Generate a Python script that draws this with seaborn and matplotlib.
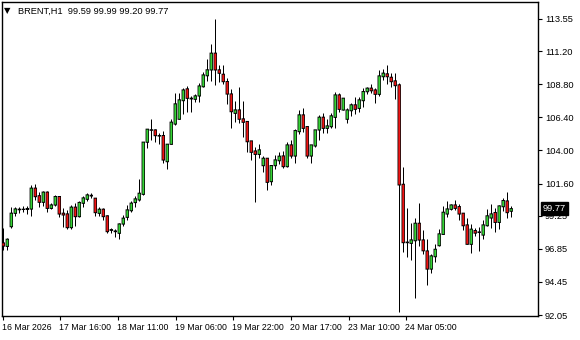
import matplotlib
matplotlib.use("Agg")
import matplotlib.pyplot as plt
import matplotlib.transforms as mtransforms
import numpy as np
import pandas as pd
import seaborn as sns

symbol = "BRENT,H1"

opens = [97.28, 97.04, 98.47, 99.44, 99.70, 99.73, 99.72, 99.75, 101.26, 100.71,
         100.24, 100.97, 99.80, 100.04, 100.65, 99.44, 99.39, 98.40, 99.88, 99.20,
         100.17, 100.46, 100.70, 100.53, 99.44, 99.73, 99.25, 98.20, 98.15, 97.99,
         98.66, 99.15, 99.63, 100.22, 100.41, 100.82, 104.60, 105.50, 105.49, 105.08,
         105.08, 103.19, 104.45, 105.92, 106.27, 107.62, 108.47, 107.75, 107.72, 107.96,
         108.63, 109.43, 109.85, 111.06, 109.85, 109.53, 109.00, 108.10, 106.70, 106.94,
         106.29, 106.10, 104.69, 103.96, 103.72, 102.90, 103.43, 101.74, 102.90, 103.26,
         103.60, 102.83, 104.40, 103.60, 105.37, 106.58, 105.73, 103.60, 104.33, 105.49,
         106.41, 105.61, 105.73, 106.41, 108.03, 106.94, 106.27, 106.89, 107.31, 107.06,
         107.62, 108.27, 108.52, 108.39, 108.08, 109.36, 109.56, 109.31, 109.05, 108.76,
         101.54, 97.31, 97.26, 97.45, 98.71, 97.50, 96.70, 95.39, 96.29, 97.09,
         97.91, 99.39, 99.73, 100.04, 99.92, 99.44, 98.59, 97.19, 98.18, 98.05,
         97.86, 98.54, 99.10, 99.49, 98.78, 99.92, 100.33, 99.59]
highs = [98.34, 97.67, 99.88, 99.88, 99.92, 99.95, 100.00, 101.50, 101.57, 100.97,
         101.08, 101.08, 100.15, 100.75, 100.70, 99.80, 99.70, 100.04, 100.17, 100.36,
         100.70, 100.94, 100.89, 100.55, 99.88, 99.85, 99.30, 98.37, 98.30, 98.72,
         99.32, 100.04, 100.33, 100.70, 101.93, 104.62, 105.56, 106.29, 105.54, 105.25,
         105.44, 104.47, 106.29, 108.15, 108.20, 108.52, 108.68, 107.96, 108.08, 108.88,
         109.68, 110.62, 111.71, 113.55, 110.21, 110.21, 109.29, 108.47, 107.60, 108.63,
         107.60, 106.10, 104.69, 104.28, 104.45, 103.62, 103.43, 102.90, 103.67, 103.91,
         103.96, 104.64, 104.76, 105.54, 106.94, 107.06, 105.73, 104.40, 105.49, 106.58,
         106.70, 106.27, 106.70, 108.27, 108.20, 107.79, 107.06, 107.47, 107.86, 107.86,
         108.52, 108.63, 108.80, 108.52, 109.85, 109.90, 110.21, 109.61, 109.61, 108.88,
         102.78, 99.80, 98.76, 99.08, 100.22, 98.23, 97.55, 96.48, 97.21, 98.28,
         99.99, 100.33, 100.10, 100.41, 100.10, 99.44, 99.08, 98.64, 98.37, 98.47,
         98.95, 99.73, 100.12, 99.80, 100.04, 100.53, 101.01, 99.99]
lows = [96.77, 96.77, 98.40, 99.27, 99.49, 99.50, 99.40, 99.27, 100.41, 99.92,
        100.00, 99.56, 99.75, 99.97, 99.20, 98.42, 98.30, 98.30, 98.55, 99.15,
        99.92, 100.34, 100.53, 99.27, 99.27, 98.95, 97.99, 97.99, 97.70, 97.55,
        98.52, 98.95, 99.53, 99.92, 100.33, 100.80, 104.18, 104.76, 104.64, 104.45,
        103.07, 102.64, 104.45, 105.85, 106.27, 106.65, 106.82, 106.82, 107.54, 107.50,
        108.63, 109.07, 109.07, 108.76, 109.00, 108.81, 107.36, 105.66, 106.10, 105.98,
        105.00, 103.91, 103.31, 100.28, 103.43, 102.46, 101.13, 101.50, 102.66, 102.99,
        102.71, 102.83, 103.43, 103.12, 105.20, 105.37, 103.43, 103.07, 104.25, 104.76,
        105.30, 105.25, 105.66, 105.61, 106.82, 106.94, 105.98, 106.51, 106.65, 106.82,
        107.18, 108.08, 108.20, 107.43, 107.96, 109.12, 108.83, 108.63, 107.72, 92.30,
        96.65, 96.29, 96.05, 93.27, 97.06, 96.48, 94.23, 95.08, 95.92, 97.09,
        97.91, 99.15, 99.68, 99.68, 98.97, 98.23, 97.19, 96.53, 97.81, 96.72,
        97.55, 98.54, 98.35, 98.11, 98.28, 99.61, 99.08, 99.20]
closes = [97.06, 97.55, 99.44, 99.75, 99.73, 99.72, 99.78, 101.26, 100.65, 100.24,
          100.97, 99.80, 100.04, 100.65, 99.39, 99.32, 98.40, 99.88, 99.20, 100.22,
          100.55, 100.77, 100.74, 99.49, 99.73, 99.20, 98.11, 98.25, 98.11, 98.66,
          99.08, 99.68, 100.17, 100.48, 100.89, 104.60, 105.54, 105.47, 105.08, 105.05,
          103.31, 104.45, 106.05, 107.38, 107.67, 108.39, 107.79, 107.79, 107.96, 108.68,
          109.48, 109.85, 111.06, 109.85, 109.61, 109.00, 108.10, 106.82, 106.94, 106.27,
          106.05, 104.64, 103.87, 103.72, 104.04, 103.43, 101.69, 102.90, 103.31, 103.58,
          102.83, 104.40, 103.60, 105.44, 106.58, 105.61, 103.60, 104.40, 105.49, 106.41,
          105.61, 105.78, 106.51, 108.03, 106.99, 107.79, 106.94, 107.31, 106.99, 107.67,
          108.27, 108.52, 108.34, 108.08, 109.41, 109.61, 109.36, 109.00, 108.71, 101.50,
          97.31, 97.34, 97.50, 98.71, 97.50, 96.72, 95.39, 96.34, 96.82, 97.94,
          99.51, 99.75, 100.04, 99.80, 99.39, 98.54, 97.19, 98.28, 98.00, 98.08,
          98.59, 99.25, 99.39, 98.78, 99.97, 100.36, 99.49, 99.77]

price_ticks = [113.55, 111.20, 108.80, 106.40, 104.00, 101.60, 99.25, 96.85, 94.45, 92.05]
time_labels = ["16 Mar 2026", "17 Mar 16:00", "18 Mar 11:00", "19 Mar 06:00",
               "19 Mar 22:00", "20 Mar 17:00", "23 Mar 10:00", "24 Mar 05:00"]
time_label_bars = [0, 14.25, 28.7, 43.1, 57.5, 71.9, 86.4, 100.7]

df = pd.DataFrame({"open": opens, "high": highs, "low": lows, "close": closes})
df["bar"] = np.arange(len(df))
df["bull"] = df["close"] >= df["open"]
df["body_lo"] = df[["open", "close"]].min(axis=1)
df["body_hi"] = df[["open", "close"]].max(axis=1)

sns.set_style("white")
plt.rcParams["font.family"] = ["Liberation Sans", "DejaVu Sans"]

W, H = 580, 340
DPI = 100
AX_L, AX_R, AX_T, AX_B = 2, 538, 2, 316
fig = plt.figure(figsize=(W / DPI, H / DPI), dpi=DPI)
ax = fig.add_axes([AX_L / W, (H - AX_B) / H, (AX_R - AX_L) / W, (AX_B - AX_T) / H])

YMIN, YMAX = 91.98, 114.78
XMIN, XMAX = -0.33, 133.7
ax.set_ylim(YMIN, YMAX)
ax.set_xlim(XMIN, XMAX)
py = (YMAX - YMIN) / (AX_B - AX_T)   # price units per pixel
PX = 72 / DPI                        # one pixel in points

GREEN = "#36D336"
RED = "#F01414"

# wicks
ax.vlines(df["bar"], df["low"], df["high"], color="black", linewidth=PX, zorder=2)
# body outline (black rectangle)
ax.bar(df["bar"], df["body_hi"] - df["body_lo"] + 1.2 * py,
       bottom=df["body_lo"] - 0.6 * py, width=0.85, color="black",
       linewidth=0, zorder=3, snap=False)
# body fill (coloured rectangle inside)
inner = df[(df["body_hi"] - df["body_lo"]) > 1.0 * py]
ax.bar(inner["bar"], inner["body_hi"] - inner["body_lo"] - 0.8 * py,
       bottom=inner["body_lo"] + 0.4 * py, width=0.47,
       color=[GREEN if b else RED for b in inner["bull"]],
       linewidth=0, zorder=4, snap=False)

for s in ax.spines.values():
    s.set_color("black")
    s.set_linewidth(1.0)
    s.set_visible(True)

ax.yaxis.tick_right()
ax.set_yticks(price_ticks)
ax.set_yticklabels([f"{v:.2f}" for v in price_ticks])
ax.tick_params(axis="y", right=True, left=False, length=3, width=0.8, pad=2,
               labelsize=6.7, colors="black", direction="out")

ax.set_xticks(time_label_bars)
ax.set_xticklabels(time_labels)
ax.tick_params(axis="x", bottom=True, length=3, width=0.8, pad=2,
               labelsize=6.3, colors="black", direction="out")
offset = mtransforms.ScaledTranslation(-1 / DPI, 0, fig.dpi_scale_trans)
for t in ax.get_xticklabels():
    t.set_horizontalalignment("left")
    t.set_transform(t.get_transform() + offset)

ax.set_xlabel("")
ax.set_ylabel("")
ax.grid(False)

# header
hdr_y = 1 - 11 / H
fig.text(4 / W, hdr_y, "▼", fontsize=6, va="center", ha="left", color="black",
         family=["DejaVu Sans"])
fig.text(18 / W, hdr_y,
         f"{symbol}  {opens[-1]:.2f} {highs[-1]:.2f} {lows[-1]:.2f} {closes[-1]:.2f}",
         fontsize=6.7, va="center", ha="left", color="black")

# current price marker
trans = mtransforms.blended_transform_factory(ax.transAxes, ax.transData)
ax.text(1 + 5 / (AX_R - AX_L), closes[-1], f"{closes[-1]:.2f}", transform=trans,
        fontsize=6.7, color="white", va="center", ha="left", zorder=10,
        bbox=dict(boxstyle="square,pad=0.2", facecolor="black", edgecolor="black"),
        clip_on=False)

fig.savefig("out.png", dpi=DPI, facecolor="white")
